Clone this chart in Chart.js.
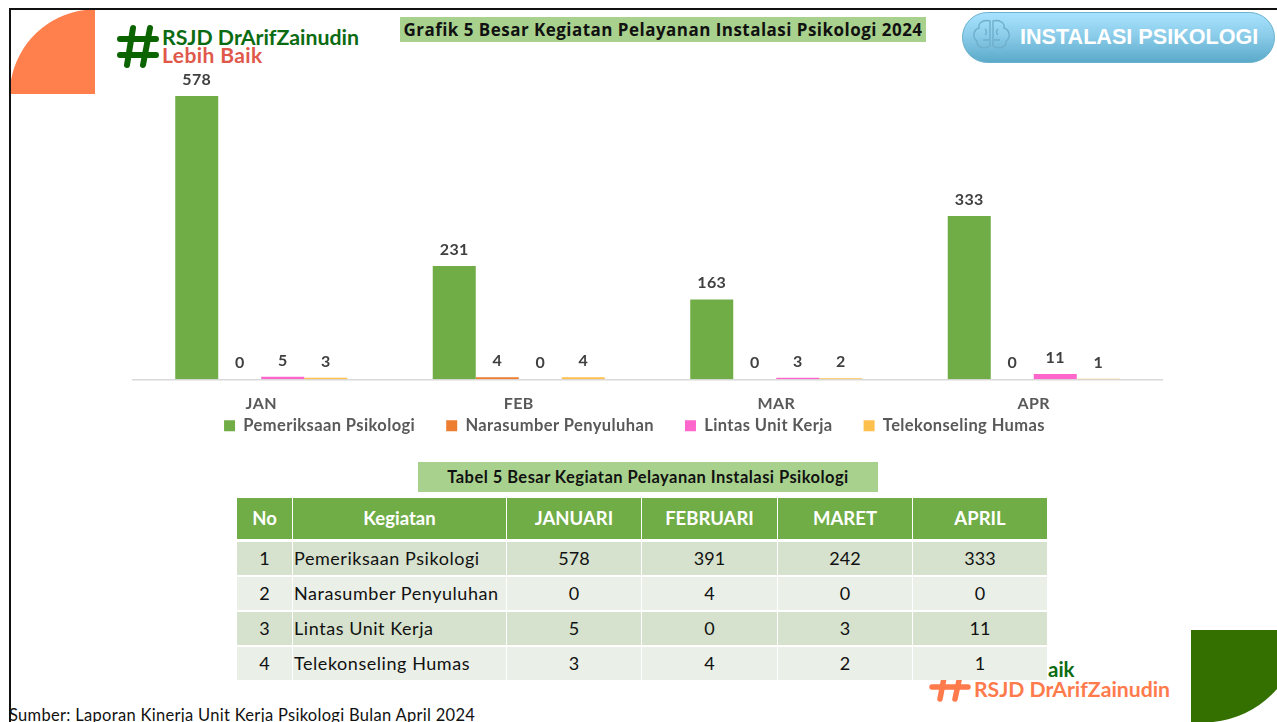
<!DOCTYPE html>
<html>
<head>
<meta charset="utf-8">
<script src="https://cdn.jsdelivr.net/npm/chart.js@4"></script>
<style>
html,body{margin:0;padding:0;background:#fff;overflow:hidden}
body{width:1277px;height:722px;position:relative;font-family:Lato,sans-serif}
.abs{position:absolute}
#deco{left:0;top:0}
#chartWrap{left:0;top:60px;width:1277px;height:418px}
#title{left:400px;top:17px;width:526px;height:25px;background:#A9D18E;font:700 17px/25px "Open Sans",sans-serif;letter-spacing:.47px;color:#111;text-align:center;white-space:nowrap}
#tblTitle{left:418px;top:462px;width:460px;height:30px;background:#A9D18E;font:700 16.5px/30px Lato,sans-serif;letter-spacing:.45px;color:#111;text-align:center;white-space:nowrap}
#pillText{left:1020px;top:21px;font:700 21.6px/32px "Liberation Sans",sans-serif;color:#fff;white-space:nowrap}
#tbl{left:236px;top:498px;border-collapse:separate;border-spacing:1px 0;table-layout:fixed}
#tbl td,#tbl th{padding:0;text-align:center;overflow:hidden;white-space:nowrap}
#tbl th{background:#70AD47;color:#fff;font:700 18.5px/41px Lato,sans-serif;height:41px}
#tbl td{font:400 18px/33px Lato,sans-serif;color:#111;height:33px;border-top:2px solid #fff}
#tbl tbody tr:first-child td{border-top:3px solid #fff}
#tbl tr:nth-child(odd) td{background:#D6E2CE}
#tbl tr:nth-child(even) td{background:#EAEFE7}
#tbl td.n{text-align:left;padding-left:1px;letter-spacing:.55px}
#src{left:9px;top:705px;font:400 16.5px/20px Lato,sans-serif;letter-spacing:.3px;color:#111;white-space:nowrap}
.logo1{left:162px;top:25px;font:700 21.3px/24px Lato,sans-serif;color:#0B6B12;white-space:nowrap}
.logo2{left:162px;top:43px;font:700 21px/24px Lato,sans-serif;letter-spacing:.4px;color:#E0584A;white-space:nowrap}
.logo3{left:1048px;top:657px;font:700 20.5px/24px Lato,sans-serif;color:#0B6B12;white-space:nowrap}
.logo4{left:974px;top:677px;font:700 21.2px/24px Lato,sans-serif;color:#FF7B4C;white-space:nowrap}
</style>
</head>
<body>
<svg id="deco" class="abs" width="1277" height="722">
  <defs>
    <linearGradient id="pill" x1="0" y1="0" x2="0" y2="1">
      <stop offset="0" stop-color="#A8E3FF"/><stop offset=".45" stop-color="#8CCDEA"/><stop offset="1" stop-color="#5AA9C9"/>
    </linearGradient>
  </defs>
  <rect x="9" y="8" width="1268" height="2" fill="#111"/>
  <rect x="9" y="8" width="2" height="714" fill="#111"/>
  <path d="M11 94 V80 A86 86 0 0 1 85 10 H95 V94 Z" fill="#FF7F4D"/>
  <path d="M1191 630 H1277 V689 A100 100 0 0 1 1213 722 H1191 Z" fill="#337000"/>
  <g stroke="#0B6400" stroke-width="6" stroke-linecap="round" fill="none">
    <path d="M133 28 L127 65 M150 28 L143 65"/>
    <path d="M120 39 H156 M120 55 H156"/>
  </g>
  <g stroke="#FF7B4C" stroke-width="5.500" stroke-linecap="round" fill="none">
    <path d="M947 662 L940 699 M963 662 L955 699"/>
    <path d="M932 687 H968"/>
  </g>
  <rect x="962.500" y="12.500" width="312" height="50" rx="25" fill="url(#pill)" stroke="#6BB0CC"/>
  <g fill="none" stroke="#6FAFCB" stroke-width="1.400">
    <path d="M990 21 C982 19 978 24 979 28 C973 30 972 38 977 41 C976 47 984 50 990 46 Z"/>
    <path d="M993 21 C1001 19 1005 24 1004 28 C1010 30 1011 38 1006 41 C1007 47 999 50 993 46 Z"/>
    <path d="M985 29 q3 3 0 6 M998 29 q-3 3 0 6 M983 40 h6 M994 40 h6"/>
  </g>
</svg>
<div class="abs logo1">RSJD DrArifZainudin</div>
<div class="abs logo2">Lebih Baik</div>
<div class="abs logo3">aik</div>
<div class="abs logo4">RSJD DrArifZainudin</div>
<div id="pillText" class="abs">INSTALASI PSIKOLOGI</div>
<div id="title" class="abs">Grafik 5 Besar Kegiatan Pelayanan Instalasi Psikologi 2024</div>
<div id="chartWrap" class="abs"><canvas id="c" width="1277" height="418"></canvas></div>
<div id="tblTitle" class="abs">Tabel 5 Besar Kegiatan Pelayanan Instalasi Psikologi</div>
<table id="tbl" class="abs"><thead id="th"></thead><tbody id="tb"></tbody></table>
<div id="src" class="abs">Sumber: Laporan Kinerja Unit Kerja Psikologi Bulan April 2024</div>
<script>
const categories = ["JAN","FEB","MAR","APR"];
const seriesNames = ["Pemeriksaan Psikologi","Narasumber Penyuluhan","Lintas Unit Kerja","Telekonseling Humas"];
const pemeriksaan = [578,231,163,333];
const narasumber = [0,4,0,0];
const lintas = [5,0,3,11];
const telekonseling = [3,4,2,1];
const seriesColors = ["#70AD47","#ED7D31","#FF66CC","#FFC04D"];

const tableHead = ["No","Kegiatan","JANUARI","FEBRUARI","MARET","APRIL"];
const tablePemeriksaan = [578,391,242,333];
const tableNarasumber = [0,4,0,0];
const tableLintas = [5,0,3,11];
const tableTelekonseling = [3,4,2,1];
const colWidths = [55,213,134,135,134,134];

const tableRows = [tablePemeriksaan,tableNarasumber,tableLintas,tableTelekonseling];
document.getElementById('th').innerHTML = '<tr>'+tableHead.map((h,i)=>`<th style="width:${colWidths[i]}px">${h}</th>`).join('')+'</tr>';
document.getElementById('tb').innerHTML = tableRows.map((r,i)=>`<tr><td>${i+1}</td><td class="n">${seriesNames[i]}</td>${r.map(v=>`<td>${v}</td>`).join('')}</tr>`).join('');

const LEGEND_DX = -13, LEGEND_DY = -34;
const legendShift = {
  id:'legendShift',
  beforeUpdate(chart){ chart.ctx.letterSpacing='0.4px'; },
  beforeDraw(chart){ chart.ctx.letterSpacing='0.4px'; },
  afterLayout(chart){
    const l = chart.legend;
    l.left += LEGEND_DX; l.right += LEGEND_DX;
    l.top += LEGEND_DY; l.bottom += LEGEND_DY;
  }
};
const valueLabels = {
  id:'valueLabels',
  afterDatasetsDraw(chart){
    const ctx = chart.ctx;
    ctx.save();
    ctx.font = '700 16px Lato, sans-serif';
    ctx.fillStyle = '#404040';
    ctx.textAlign = 'center';
    ctx.textBaseline = 'alphabetic';
    chart.data.datasets.forEach((ds,i)=>{
      chart.getDatasetMeta(i).data.forEach((bar,j)=>{
        ctx.fillText(String(ds.data[j]), bar.x, bar.y - 11);
      });
    });
    ctx.restore();
  }
};

const allData = [pemeriksaan,narasumber,lintas,telekonseling];
new Chart(document.getElementById('c'),{
  type:'bar',
  data:{
    labels:categories,
    datasets:allData.map((d,i)=>({label:seriesNames[i],data:d,backgroundColor:seriesColors[i],borderWidth:0}))
  },
  options:{
    responsive:false,
    animation:false,
    layout:{padding:{left:132.5,right:114.5,top:36,bottom:0}},
    datasets:{bar:{categoryPercentage:0.668,barPercentage:1}},
    plugins:{
      tooltip:{enabled:false},
      legend:{
        position:'bottom',
        labels:{
          boxWidth:11,boxHeight:11,padding:31,
          color:'#595959',
          font:{family:'Lato',size:16.5,weight:'700'}
        }
      }
    },
    scales:{
      x:{
        grid:{display:false},
        border:{color:'#D9D9D9',width:1.5},
        ticks:{color:'#595959',font:{family:'Lato',size:16,weight:'700'},padding:7,maxRotation:0}
      },
      y:{
        display:false,min:0,max:578
      }
    }
  },
  plugins:[legendShift,valueLabels]
});
</script>
</body>
</html>
